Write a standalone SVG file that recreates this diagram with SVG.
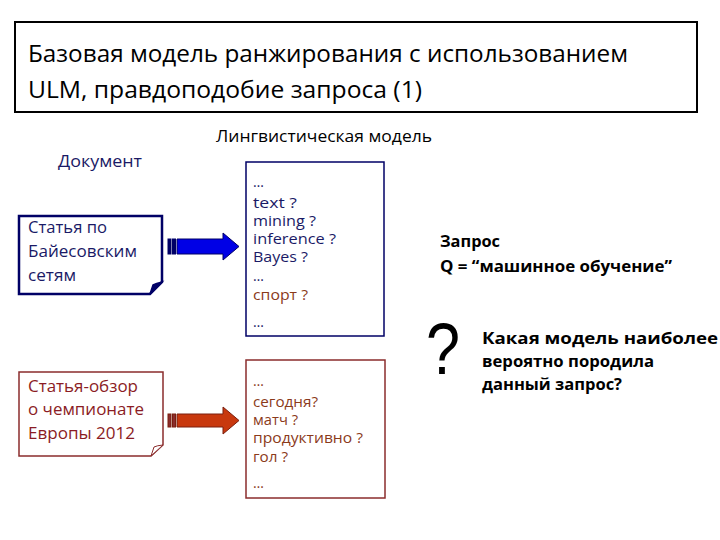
<svg xmlns="http://www.w3.org/2000/svg" width="720" height="540" viewBox="0 0 720 540">
<style>
text{font-family:"Open Sans","Noto Sans","Liberation Sans",sans-serif;}
.title{font-size:24px;fill:#000;}
.lbl{font-size:16px;}
.doc{font-size:17px;}
.m{font-size:14px;}
.q{font-size:16px;font-weight:bold;fill:#000;}
.navy{fill:#1a1a66;}
.maroon{fill:#8b1c24;}
.brown{fill:#8b3a1a;}
</style>
<rect width="720" height="540" fill="#fff"/>
<g id="title">
<rect x="15" y="22" width="682" height="90" fill="#fff" stroke="#000" stroke-width="2"/>
<text class="title" x="28" y="62" textLength="600" lengthAdjust="spacingAndGlyphs">Базовая модель ранжирования с использованием</text>
<text class="title" x="28" y="98" textLength="394" lengthAdjust="spacingAndGlyphs">ULM, правдоподобие запроса (1)</text>
</g>
<g id="label-doc"><text class="lbl navy" x="58" y="167" textLength="84" lengthAdjust="spacingAndGlyphs">Документ</text></g>
<g id="label-lm"><text class="lbl" x="216" y="142" fill="#000" textLength="216" lengthAdjust="spacingAndGlyphs">Лингвистическая модель</text></g>
<g id="doc-blue">
<path d="M19,216 H162 V282 L150,294 H19 Z" fill="#fff" stroke="#000066" stroke-width="2.5" stroke-linejoin="miter"/>
<path d="M150,294 L153,285 Q156,283.5 162,282 Z" fill="#000066" stroke="#000066" stroke-width="1.5"/>
<text class="doc navy" x="28" y="233" textLength="79" lengthAdjust="spacingAndGlyphs">Статья по</text>
<text class="doc navy" x="28" y="257" textLength="109" lengthAdjust="spacingAndGlyphs">Байесовским</text>
<text class="doc navy" x="28" y="281" textLength="48" lengthAdjust="spacingAndGlyphs">сетям</text>
</g>
<g id="doc-red">
<path d="M19,372 H163 V445 L151,456 H19 Z" fill="#fff" stroke="#8b2d2d" stroke-width="1.5"/>
<path d="M151,456 L154,447 Q157,445.5 163,445 Z" fill="#fff" stroke="#8b2d2d" stroke-width="1"/>
<text class="doc maroon" x="28" y="392" textLength="110" lengthAdjust="spacingAndGlyphs">Статья-обзор</text>
<text class="doc maroon" x="28" y="415" textLength="116" lengthAdjust="spacingAndGlyphs">о чемпионате</text>
<text class="doc maroon" x="28" y="439" textLength="107" lengthAdjust="spacingAndGlyphs">Европы 2012</text>
</g>
<g id="connectors">
<g id="arrow-blue" stroke="#000066" stroke-width="1">
<rect x="168" y="239" width="3" height="15" fill="#000066"/>
<rect x="172.5" y="239" width="3" height="15" fill="#000066"/>
<path d="M177,239 H223 V233 L239,246.5 L223,260 V254 H177 Z" fill="#0000e6"/>
</g>
<g id="arrow-red" stroke="#7a1f0f" stroke-width="1">
<rect x="168" y="414" width="3" height="13" fill="#8b2d2d"/>
<rect x="172.5" y="414" width="3" height="13" fill="#8b2d2d"/>
<path d="M177,414 H223 V407 L239,420.5 L223,434 V427 H177 Z" fill="#c8380e"/>
</g>
</g>
<g id="model-blue">
<rect x="246" y="162" width="138" height="174" fill="#fff" stroke="#000066" stroke-width="1.5"/>
<text class="m navy" x="253" y="187">…</text>
<text class="m navy" x="253" y="208" textLength="44" lengthAdjust="spacingAndGlyphs">text  ?</text>
<text class="m navy" x="253" y="226" textLength="63" lengthAdjust="spacingAndGlyphs">mining ?</text>
<text class="m navy" x="253" y="244" textLength="83" lengthAdjust="spacingAndGlyphs">inference ?</text>
<text class="m navy" x="253" y="262" textLength="55" lengthAdjust="spacingAndGlyphs">Bayes ?</text>
<text class="m navy" x="253" y="281">…</text>
<text class="m brown" x="253" y="300" textLength="55" lengthAdjust="spacingAndGlyphs">спорт ?</text>
<text class="m navy" x="253" y="327">…</text>
</g>
<g id="model-red">
<rect x="246" y="360" width="139" height="138" fill="#fff" stroke="#8b2d2d" stroke-width="1.5"/>
<text class="m brown" x="253" y="386">…</text>
<text class="m brown" x="253" y="407" textLength="65" lengthAdjust="spacingAndGlyphs">сегодня?</text>
<text class="m brown" x="253" y="425" textLength="45" lengthAdjust="spacingAndGlyphs">матч ?</text>
<text class="m brown" x="253" y="443" textLength="110" lengthAdjust="spacingAndGlyphs">продуктивно ?</text>
<text class="m brown" x="253" y="462" textLength="35" lengthAdjust="spacingAndGlyphs">гол ?</text>
<text class="m brown" x="253" y="488">…</text>
</g>
<g id="query">
<text class="q" x="440" y="247" textLength="60" lengthAdjust="spacingAndGlyphs">Запрос</text>
<text class="q" x="440" y="272" textLength="232" lengthAdjust="spacingAndGlyphs">Q = “машинное обучение”</text>
</g>
<g id="question">
<text x="426" y="374" font-size="72" fill="#000" textLength="34" lengthAdjust="spacingAndGlyphs" style="font-family:'Liberation Sans',sans-serif">?</text>
<text class="q" x="482" y="344" textLength="236" lengthAdjust="spacingAndGlyphs">Какая модель наиболее</text>
<text class="q" x="482" y="367" textLength="172" lengthAdjust="spacingAndGlyphs">вероятно породила</text>
<text class="q" x="482" y="390" textLength="140" lengthAdjust="spacingAndGlyphs">данный запрос?</text>
</g>
</svg>
